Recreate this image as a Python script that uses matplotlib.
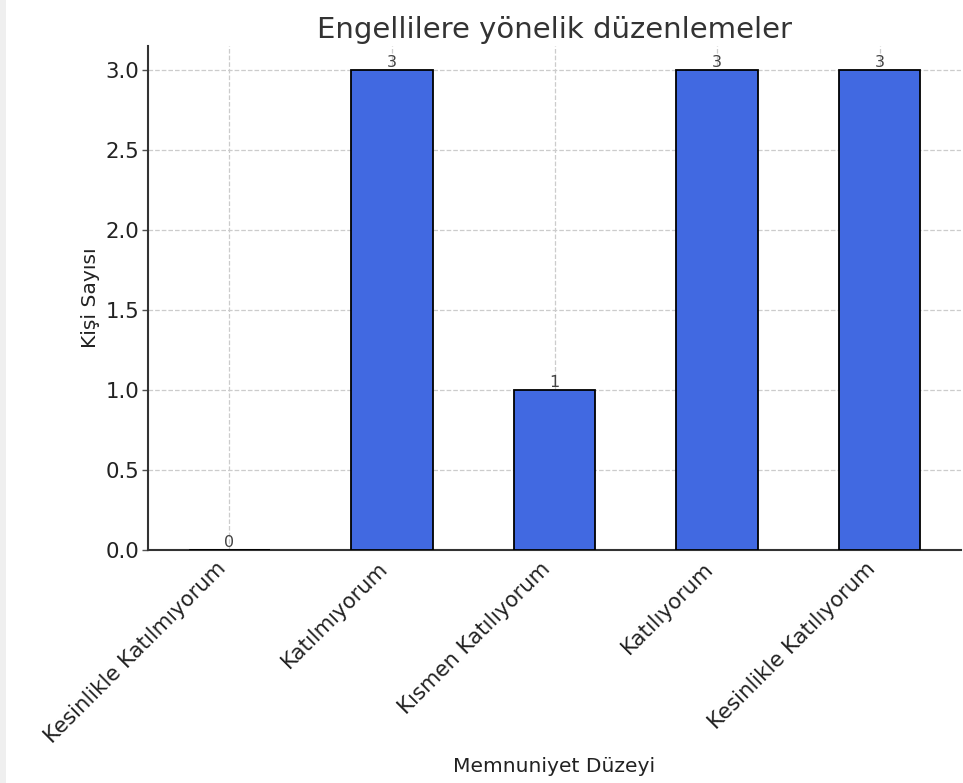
import matplotlib
matplotlib.use("Agg")
import matplotlib.pyplot as plt
from matplotlib.patches import Rectangle

categories = ["Kesinlikle Katılmıyorum", "Katılmıyorum", "Kısmen Katılıyorum",
              "Katılıyorum", "Kesinlikle Katılıyorum"]
counts = [0, 3, 1, 3, 3]
title = "Engellilere yönelik düzenlemeler"
xlabel = "Memnuniyet Düzeyi"
ylabel = "Kişi Sayısı"

plt.rcParams['font.family'] = ['DejaVu Sans']
fig = plt.figure(figsize=(9.63, 7.83), dpi=100)
fig.patches.append(Rectangle((0, 0), 6 / 963, 1, transform=fig.transFigure,
                             facecolor='#efefef', edgecolor='none', zorder=0))
ax = fig.add_axes([148 / 963, 1 - 550 / 783, (961 - 148) / 963, (550 - 46) / 783])

x = list(range(len(categories)))
bars = ax.bar(x, counts, width=0.5, color='#4169E1', edgecolor='black',
              linewidth=1.3, zorder=3)
ax.bar_label(bars, labels=[str(c) for c in counts], fontsize=11.5,
             color='#444444', padding=0, zorder=4)

ax.set_xlim(-0.5, 4.5)
ax.set_ylim(0, 3.15)
ax.set_yticks([0.0, 0.5, 1.0, 1.5, 2.0, 2.5, 3.0])
ax.set_xticks(x)
ax.set_xticklabels(categories, rotation=45, ha='right',
                   fontsize=15.3, color='#222222')
ax.tick_params(axis='y', labelsize=15.3, labelcolor='#222222', color='#555555',
               length=4, width=1, pad=2.5)
ax.tick_params(axis='x', length=0, pad=6)

ax.set_title(title, fontsize=21, color='#333333', pad=6)
ax.set_xlabel(xlabel, fontsize=14.6, color='#222222', labelpad=7)
ax.set_ylabel(ylabel, fontsize=14.6, color='#222222', labelpad=4)

ax.grid(True, linestyle='--', color='#cccccc', linewidth=0.9, zorder=0)
ax.set_axisbelow(True)
for s in ['top', 'right']:
    ax.spines[s].set_visible(False)
for s in ['left', 'bottom']:
    ax.spines[s].set_color('#333333')
    ax.spines[s].set_linewidth(1.5)

fig.savefig("out.png", dpi=100)
